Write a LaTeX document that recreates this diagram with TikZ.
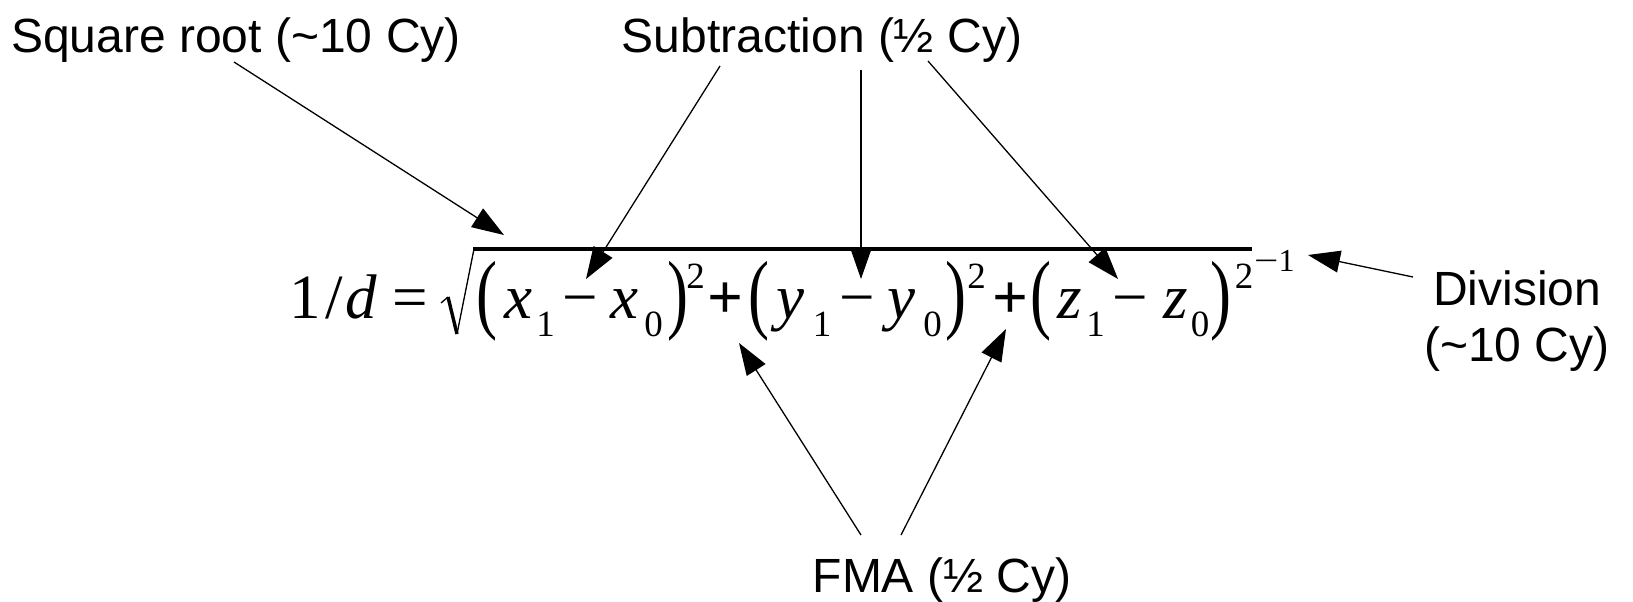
\documentclass[tikz,border=0pt]{standalone}
\usepackage{fontspec}
\usepackage{graphicx}
\setmainfont{Liberation Sans}
\newfontfamily\fser{Liberation Serif}
\usetikzlibrary{arrows.meta}
\newcommand{\tallp}[1]{\scalebox{1}[1.4]{#1}}
\begin{document}
\begin{tikzpicture}[x=1pt,y=-1pt,
  lbl/.style={font=\fontsize{48}{56}\selectfont, inner sep=0pt},
  mth/.style={font=\fontsize{63}{70}\selectfont\fser, inner sep=0pt, anchor=base},
  mit/.style={font=\fontsize{63}{70}\selectfont\fser\itshape, inner sep=0pt, anchor=base},
  subs/.style={font=\fontsize{37}{40}\selectfont\fser, inner sep=0pt, anchor=base},
  sups/.style={font=\fontsize{37}{42}\selectfont\fser, inner sep=0pt, anchor=base},
  paren/.style={font=\fontsize{63}{70}\selectfont\fser, inner sep=0pt, anchor=center},
  arr/.style={line width=1.3pt, -{Triangle[length=32pt,width=22pt]}}]
\useasboundingbox (0,0) rectangle (1633,602);

% labels
\node[lbl, anchor=base west] (sq) at (11,53) {Square root (\textasciitilde10 Cy)};
\node[lbl, anchor=base] (sub) at (822,53) {Subtraction (½ Cy)};
\node[lbl, anchor=base west] (div) at (1433,305) {Division};
\node[lbl, anchor=base west] (divb) at (1424,361) {(\textasciitilde10 Cy)};
\node[lbl, anchor=base] (fma) at (942,592) {FMA (½ Cy)};

% formula
\node[mth] (one) at (305.5,318) {1};
\node[mth] (slash) at (334.5,318) {/};
\node[mit] (d) at (361.5,318) {d};
\node[mth] (eq) at (410.5,318) {=};
\node[paren] (lp1) at (486.5,301.5) {\tallp{(}};
\node[mit] (xa) at (518.5,318) {x};
\node[subs] (sa) at (545.5,336) {1};
\node[mth] (ma) at (580,318) {−};
\node[mit] (xb) at (624,318) {x};
\node[subs] (sb) at (653.5,336) {0};
\node[paren] (rp1) at (677.5,301.5) {\tallp{)}};
\node[sups] (ea) at (695.5,288) {2};
\node[mth] (pa) at (725.5,318) {\bfseries +};
\node[paren] (lp2) at (759,301.5) {\tallp{(}};
\node[mit] (ya) at (790.5,318) {y};
\node[subs] (sc) at (822,336) {1};
\node[mth] (mb) at (857.5,318) {−};
\node[mit] (yb) at (901.5,318) {y};
\node[subs] (sd) at (932.5,336) {0};
\node[paren] (rp2) at (956,301.5) {\tallp{)}};
\node[sups] (eb) at (976.5,288) {2};
\node[mth] (pb) at (1010,318) {\bfseries +};
\node[paren] (lp3) at (1041,301.5) {\tallp{(}};
\node[mit] (za) at (1070,318) {z};
\node[subs] (se) at (1095.5,336) {1};
\node[mth] (mc) at (1130,318) {−};
\node[mit] (zb) at (1176,318) {z};
\node[subs] (sf) at (1200,336) {0};
\node[paren] (rp3) at (1221,301.5) {\tallp{)}};
\node[sups] (ec) at (1244,288) {2};
\node[font=\fontsize{32}{36}\selectfont\fser, inner sep=0pt, anchor=base west] (inv) at (1254,271) {\scalebox{1.35}[1]{−}1};

% radical
\draw[line width=1.3pt] (441,303) -- (448,297);
\draw[line width=3.4pt] (448,297) -- (457,334);
\draw[line width=1.3pt] (457,334) -- (474,249);
\draw[line width=3.3pt] (473,249) -- (1252,249);

% arrows
\coordinate (sqS) at (234,62);   \coordinate (sqT) at (504,235);
\coordinate (saS) at (720,66);   \coordinate (saT) at (586,279);
\coordinate (sbS) at (861,70);   \coordinate (sbT) at (861,279);
\coordinate (scS) at (928,61);   \coordinate (scT) at (1118,279);
\coordinate (faS) at (861,535);  \coordinate (faT) at (739,343);
\coordinate (fbS) at (901,535);  \coordinate (fbT) at (1006,329);
\coordinate (dvS) at (1413,277); \coordinate (dvT) at (1308,255);
\draw[arr] (sqS) -- (sqT);
\draw[arr] (saS) -- (saT);
\draw[arr] (sbS) -- (sbT);
\draw[arr] (scS) -- (scT);
\draw[arr] (faS) -- (faT);
\draw[arr] (fbS) -- (fbT);
\draw[arr] (dvS) -- (dvT);
\end{tikzpicture}
\end{document}
